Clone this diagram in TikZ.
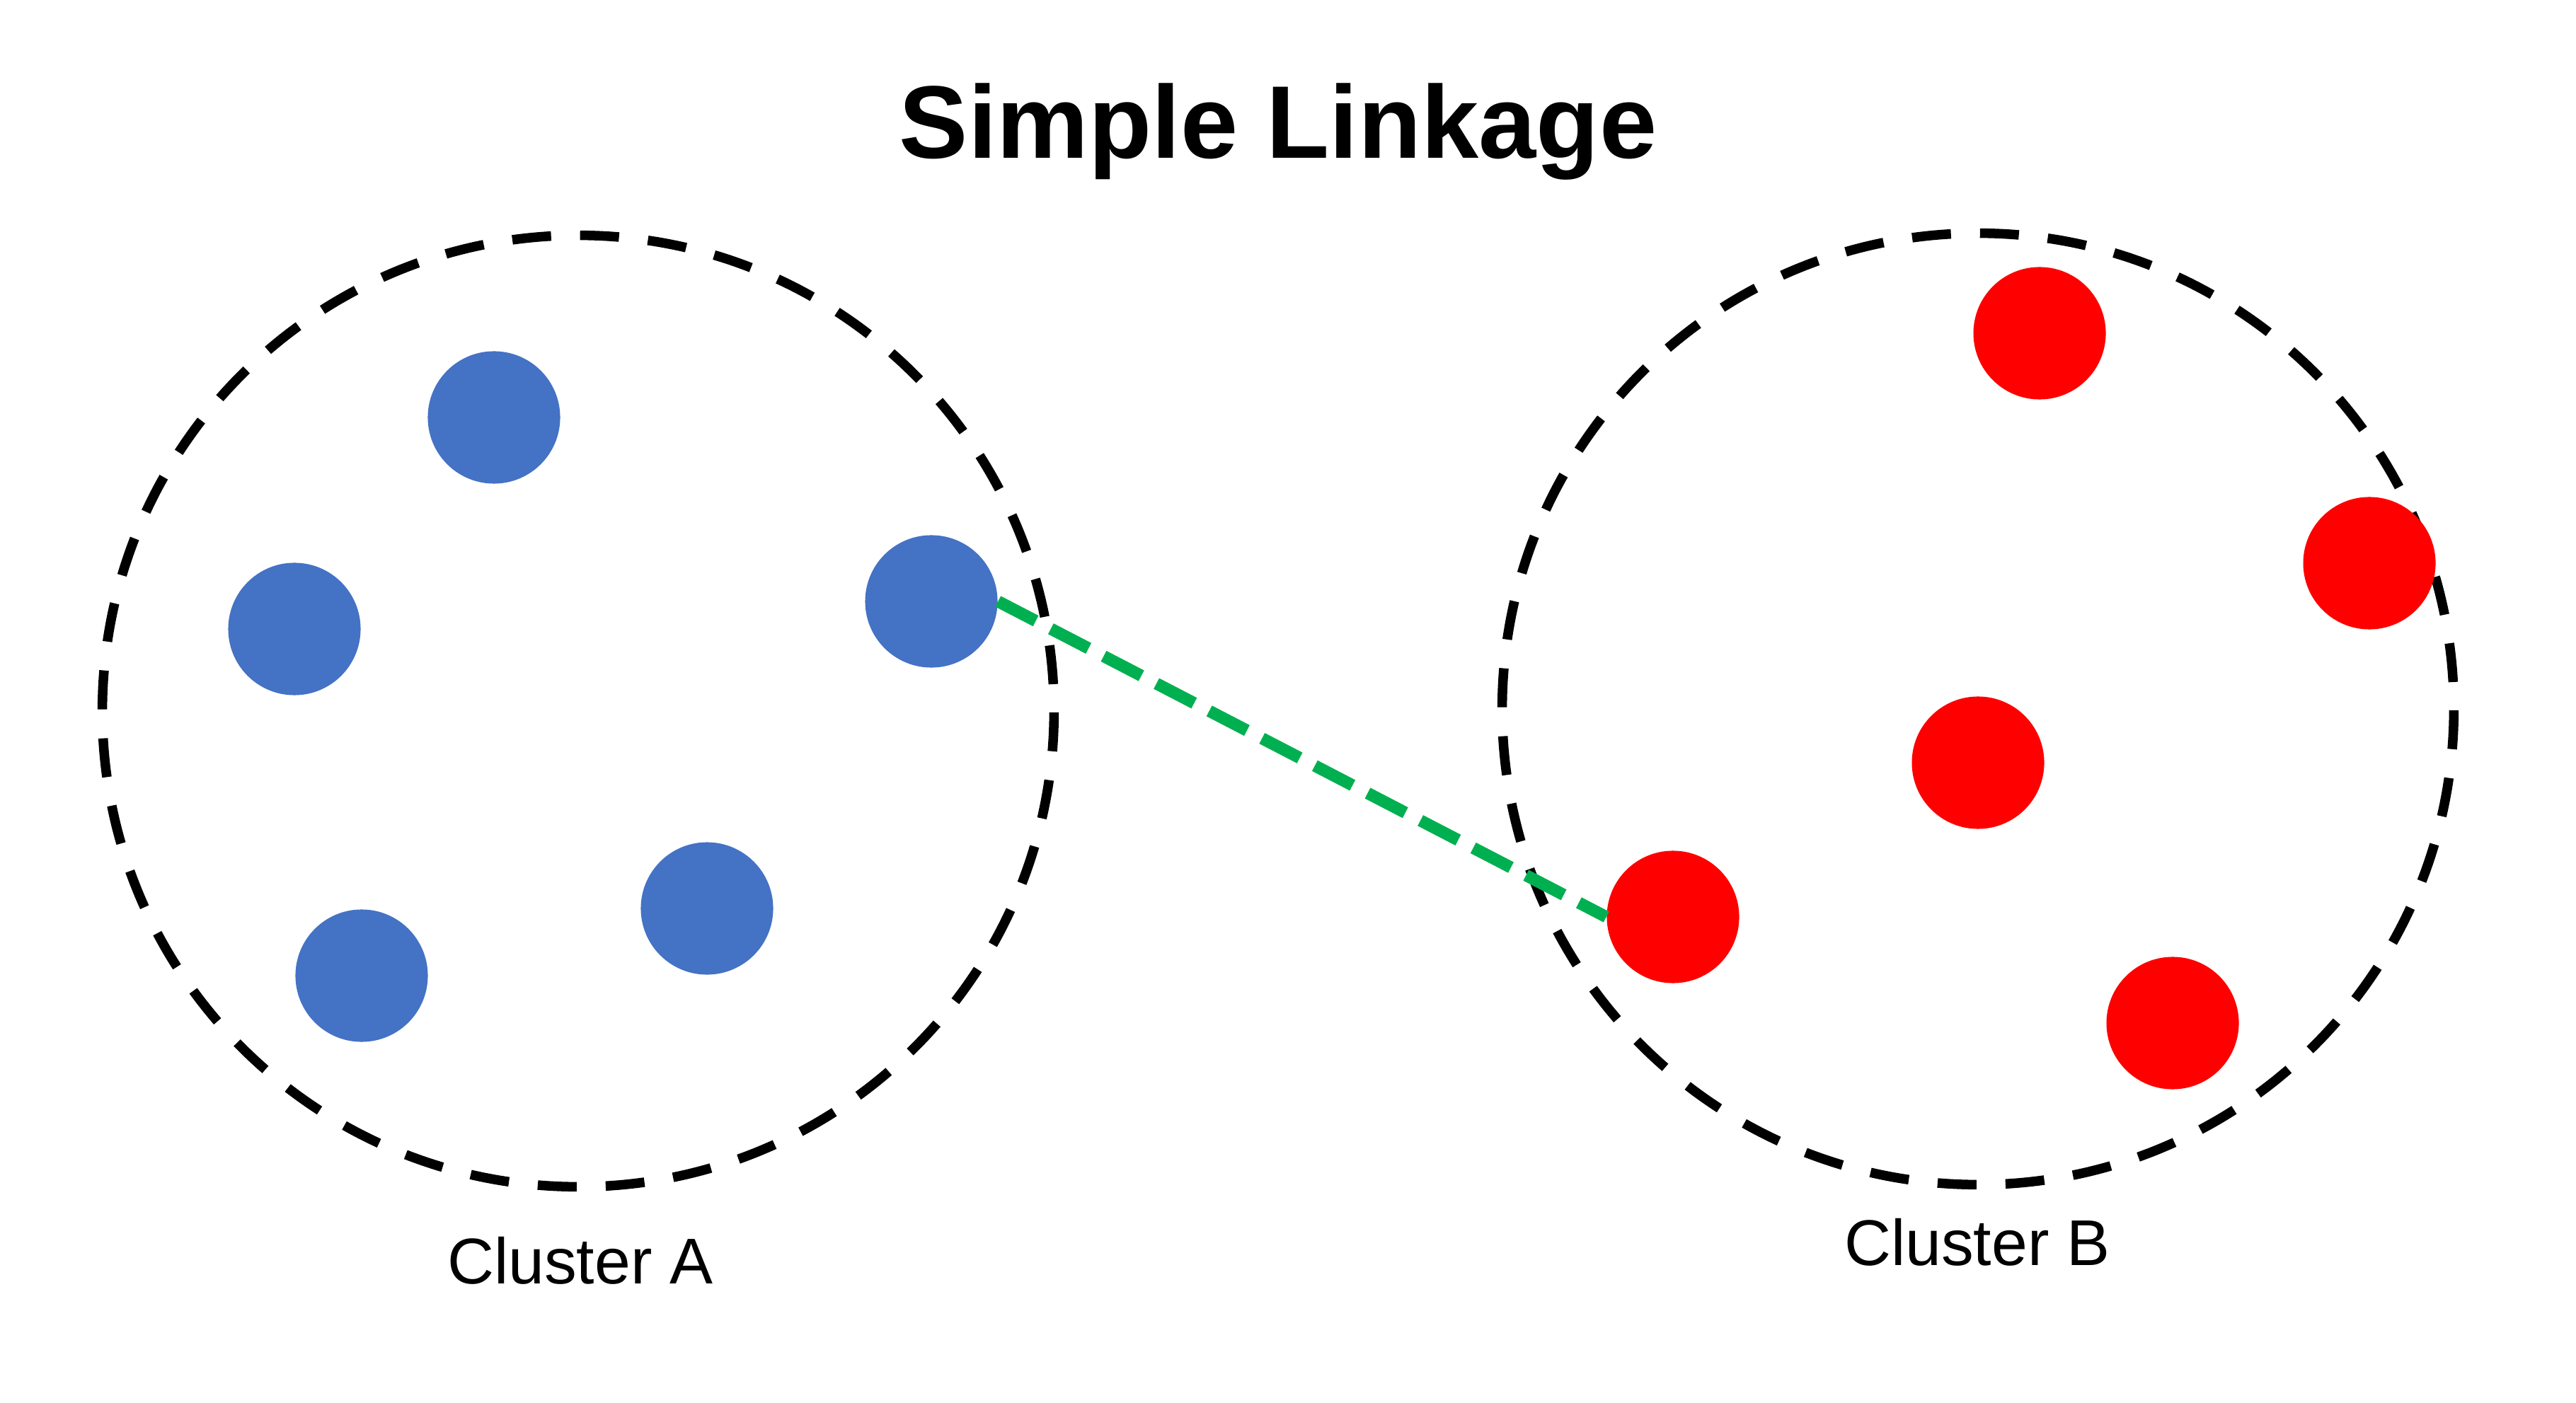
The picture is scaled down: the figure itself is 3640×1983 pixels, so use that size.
\documentclass[tikz,border=0pt]{standalone}
\usepackage{fontspec}
\setmainfont{Liberation Sans}
\definecolor{dotblue}{HTML}{4472C4}
\definecolor{dotred}{HTML}{FF0000}
\definecolor{linkgreen}{HTML}{00B050}
\begin{document}
\begin{tikzpicture}[x=0.01cm, y=-0.01cm,
  clusterring/.style={circle, draw=black, line width=0.135cm,
    dash pattern=on 0.55cm off 0.41cm, dash phase=0.58cm,
    minimum size=13.44cm, inner sep=0pt},
  bluedot/.style={circle, fill=dotblue, minimum size=1.87cm, inner sep=0pt},
  reddot/.style={circle, fill=dotred, minimum size=1.87cm, inner sep=0pt},
  linkline/.style={draw=linkgreen, line width=0.17cm, dash pattern=on 0.60cm off 0.24cm},
  titletext/.style={anchor=base, font=\bfseries\fontsize{41.5}{50}\selectfont},
  labeltext/.style={anchor=base, font=\fontsize{26}{31}\selectfont}]
\useasboundingbox (0,0) rectangle (3640,1983);
\fill[white] (0,0) rectangle (3640,1983);

\node[titletext] (title) at (1806,224) {Simple Linkage};

\node[clusterring] (ca) at (817,1005) {};
\node[clusterring] (cb) at (2795,1002) {};

\node[labeltext] (la) at (820,1814) {Cluster A};
\node[labeltext] (lb) at (2794,1788) {Cluster B};

\node[bluedot] (b1) at (698,590) {};
\node[bluedot] (b2) at (416,889) {};
\node[bluedot] (b3) at (1316,850) {};
\node[bluedot] (b4) at (999,1284) {};
\node[bluedot] (b5) at (511,1379) {};

\node[reddot] (r1) at (2882,471) {};
\node[reddot] (r2) at (3348,796) {};
\node[reddot] (r3) at (2795,1078) {};
\node[reddot] (r4) at (2364,1296) {};
\node[reddot] (r5) at (3070,1446) {};

\draw[linkline] (b3.east) -- (r4.west);
\end{tikzpicture}
\end{document}
